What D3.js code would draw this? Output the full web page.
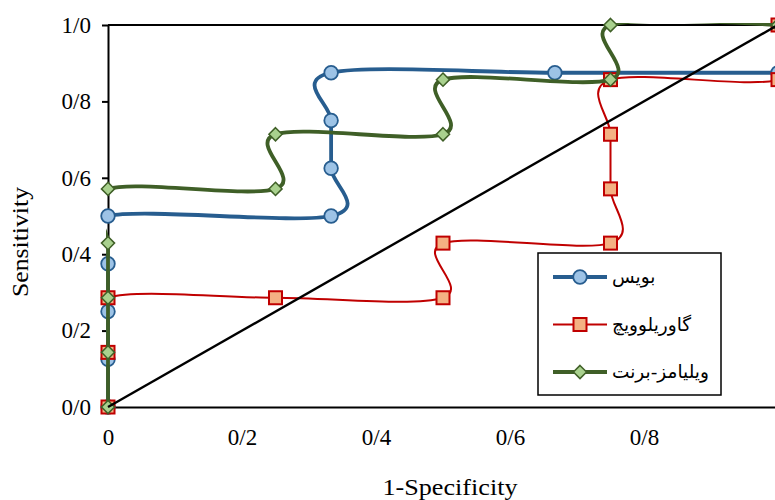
<!DOCTYPE html>
<html>
<head>
<meta charset="utf-8">
<script src="https://cdn.jsdelivr.net/npm/d3@7"></script>
<style>
  body { margin: 0; background: #fff; }
  svg { display: block; }
  .axis-title { font-family: "Liberation Serif", "Times New Roman", serif; font-size: 24px; fill: #000; }
  .legend-text { font-family: "DejaVu Sans", sans-serif; font-size: 18.5px; fill: #000; }
</style>
</head>
<body>
<svg id="chart" width="775" height="500"></svg>
<script>
// ROC curves, values
var boyceX = [0, 0, 0, 0, 0, 0.333, 0.333, 0.333, 0.333, 0.667, 1];
var boyceY = [0, 0.125, 0.25, 0.375, 0.5, 0.5, 0.625, 0.75, 0.875, 0.875, 0.875];

var gavrilovicX = [0, 0, 0, 0.25, 0.5, 0.5, 0.75, 0.75, 0.75, 0.75, 1, 1];
var gavrilovicY = [0, 0.143, 0.286, 0.286, 0.286, 0.429, 0.429, 0.571, 0.714, 0.857, 0.857, 1];

var williamsX = [0, 0, 0, 0, 0, 0.25, 0.25, 0.5, 0.5, 0.75, 0.75, 1];
var williamsY = [0, 0.143, 0.286, 0.429, 0.571, 0.571, 0.714, 0.714, 0.857, 0.857, 1, 1];

var diagX = [0, 1];
var diagY = [0, 1];

var seriesNames = ["بویس", "گاوریلوویچ", "ویلیامز-برنت"];
var xTicks = [0, 0.2, 0.4, 0.6, 0.8];
var xTickLabels = ["0", "0/2", "0/4", "0/6", "0/8"];
var yTicks = [0, 0.2, 0.4, 0.6, 0.8, 1];
var yTickLabels = ["0/0", "0/2", "0/4", "0/6", "0/8", "1/0"];

var margin = { top: 25, left: 108, bottom: 93, right: -3 };
var width = 775, height = 500;
var serif = '"Liberation Serif", "Times New Roman", serif';

var svg = d3.select("#chart");

var xScale = d3.scaleLinear()
    .domain([0, 1])
    .range([margin.left, width - margin.right]);
var yScale = d3.scaleLinear()
    .domain([0, 1])
    .range([height - margin.bottom, margin.top]);

function zip(xs, ys) {
    return xs.map((x, i) => ({ x: x, y: ys[i] }));
}

var series = [
    { name: seriesNames[0], data: zip(boyceX, boyceY), color: "#275D8F", width: 3.8,
      fill: "#9DC3E6", stroke: "#275D8F", marker: "circle" },
    { name: seriesNames[1], data: zip(gavrilovicX, gavrilovicY), color: "#C00000", width: 2,
      fill: "#F4B183", stroke: "#C00000", marker: "square" },
    { name: seriesNames[2], data: zip(williamsX, williamsY), color: "#3F5F27", width: 3.8,
      fill: "#A9D18E", stroke: "#3F5F27", marker: "diamond" }
];

// lines are clipped to the plot area like Excel does, markers are not
svg.append("defs").append("clipPath")
    .attr("id", "plot-clip")
    .append("rect")
    .attr("x", xScale(0) - 2)
    .attr("y", yScale(1) - 2)
    .attr("width", xScale(1) - xScale(0) + 4)
    .attr("height", yScale(0) - yScale(1) + 4);

// plot frame
var frame = svg.append("g").attr("class", "frame");
frame.append("line")
    .attr("x1", xScale(0)).attr("x2", xScale(1))
    .attr("y1", yScale(1)).attr("y2", yScale(1))
    .attr("stroke", "#000").attr("stroke-width", 2);
frame.append("line")
    .attr("x1", xScale(1)).attr("x2", xScale(1))
    .attr("y1", yScale(1)).attr("y2", yScale(0))
    .attr("stroke", "#000").attr("stroke-width", 2);

// x axis: line + labels, no tick marks
var xAxis = d3.axisBottom(xScale)
    .tickValues(xTicks)
    .tickSize(0)
    .tickPadding(22)
    .tickFormat((d, i) => xTickLabels[i]);
var gx = svg.append("g")
    .attr("transform", "translate(0," + yScale(0) + ")")
    .call(xAxis);
gx.attr("font-family", serif).attr("font-size", 23);
gx.select(".domain").attr("stroke", "#000").attr("stroke-width", 2);

var yAxis = d3.axisLeft(yScale)
    .tickValues(yTicks)
    .tickSize(6)
    .tickSizeOuter(0)
    .tickPadding(11)
    .tickFormat((d, i) => yTickLabels[i]);
var gy = svg.append("g")
    .attr("transform", "translate(" + xScale(0) + ",0)")
    .call(yAxis);
gy.attr("font-family", serif).attr("font-size", 23);
gy.select(".domain").attr("stroke", "#000").attr("stroke-width", 2);
gy.selectAll(".tick line").attr("stroke", "#000").attr("stroke-width", 2);

// smoothed lines like Excel
var line = d3.line()
    .x(d => xScale(d.x))
    .y(d => yScale(d.y))
    .curve(d3.curveCardinal.tension(0));

function drawMarker(g, s, cx, cy) {
    if (s.marker === "circle") {
        g.append("circle").attr("cx", cx).attr("cy", cy).attr("r", 6.8)
            .attr("fill", s.fill).attr("stroke", s.stroke).attr("stroke-width", 1.8);
    } else if (s.marker === "square") {
        g.append("rect").attr("x", cx - 6.5).attr("y", cy - 6.5)
            .attr("width", 13).attr("height", 13)
            .attr("fill", s.fill).attr("stroke", s.stroke).attr("stroke-width", 2);
    } else {
        g.append("path")
            .attr("d", d3.symbol().type(d3.symbolDiamond2).size(110)())
            .attr("transform", "translate(" + cx + "," + cy + ")")
            .attr("fill", s.fill).attr("stroke", s.stroke).attr("stroke-width", 1.5);
    }
}

series.forEach(s => {
    var g = svg.append("g").attr("class", "series");
    g.append("path")
        .attr("d", line(s.data))
        .attr("clip-path", "url(#plot-clip)")
        .attr("fill", "none")
        .attr("stroke", s.color)
        .attr("stroke-width", s.width);
    s.data.forEach(d => drawMarker(g, s, xScale(d.x), yScale(d.y)));
});

// reference diagonal
svg.append("path")
    .attr("d", d3.line().x(d => xScale(d.x)).y(d => yScale(d.y))(zip(diagX, diagY)))
    .attr("fill", "none")
    .attr("stroke", "#000")
    .attr("stroke-width", 2.4);

// legend
var legend = svg.append("g").attr("class", "legend");
legend.append("rect")
    .attr("x", 538).attr("y", 253)
    .attr("width", 183).attr("height", 142)
    .attr("fill", "#fff").attr("stroke", "#000").attr("stroke-width", 1.5);
series.forEach((s, i) => {
    var ly = 277 + i * 47.5;
    legend.append("line")
        .attr("x1", 553).attr("x2", 607)
        .attr("y1", ly).attr("y2", ly)
        .attr("stroke", s.color).attr("stroke-width", s.width);
    drawMarker(legend, s, 580, ly);
    legend.append("text")
        .attr("class", "legend-text")
        .attr("x", 612).attr("y", ly)
        .attr("dy", "0.35em")
        .text(s.name);
});

// axis titles
svg.append("text")
    .attr("class", "axis-title")
    .attr("transform", "translate(28,242) rotate(-90)")
    .attr("text-anchor", "middle")
    .attr("textLength", 110)
    .attr("lengthAdjust", "spacingAndGlyphs")
    .text("Sensitivity");
svg.append("text")
    .attr("class", "axis-title")
    .attr("x", 450).attr("y", 495)
    .attr("text-anchor", "middle")
    .attr("textLength", 135)
    .attr("lengthAdjust", "spacingAndGlyphs")
    .text("1-Specificity");
</script>
</body>
</html>
